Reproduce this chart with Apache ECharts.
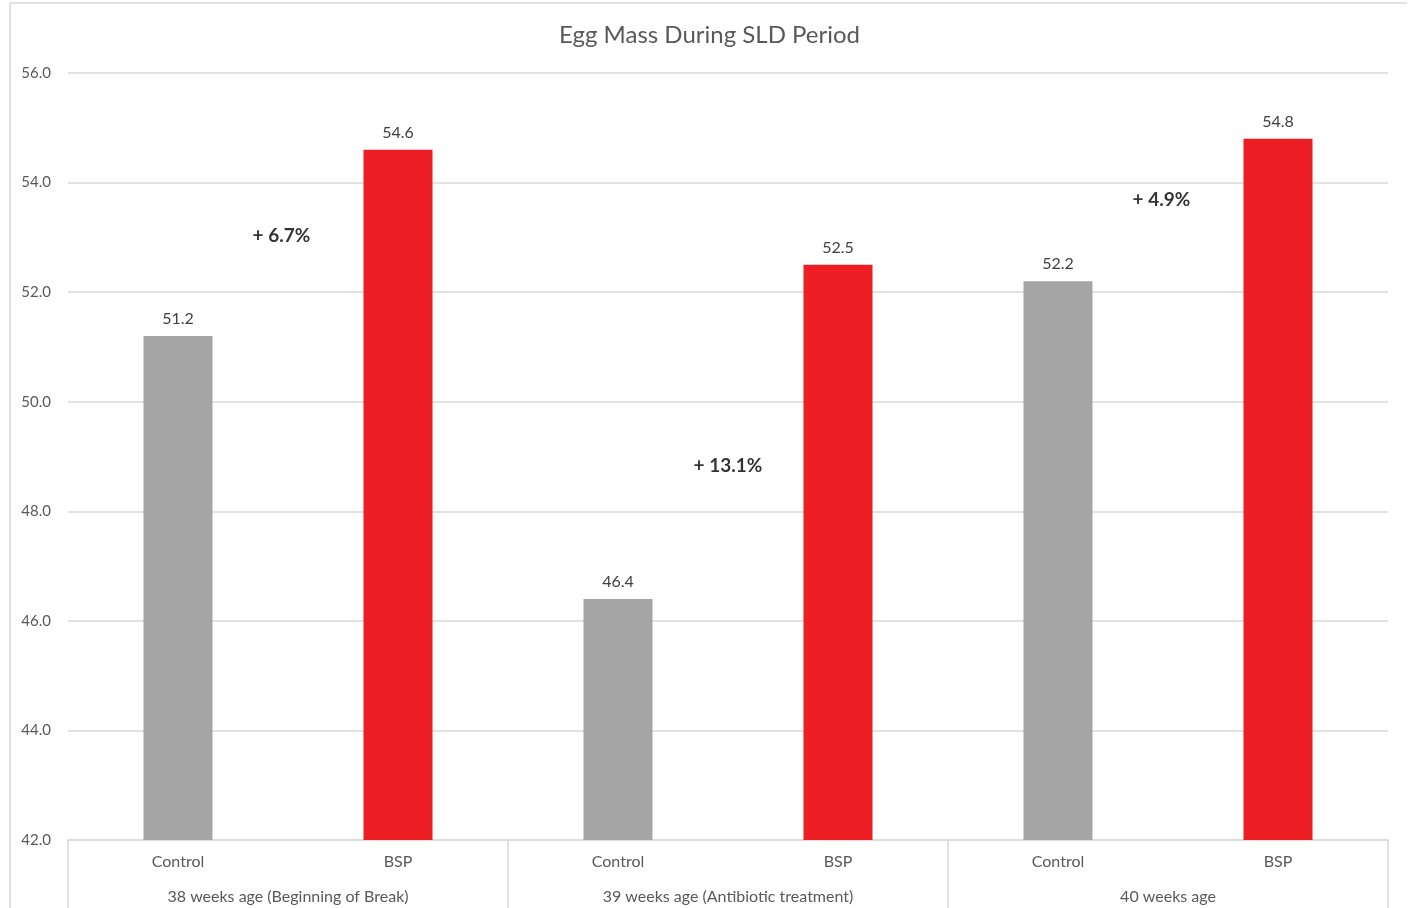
<!DOCTYPE html>
<html>
<head>
<meta charset="utf-8">
<script src="https://cdn.jsdelivr.net/npm/echarts@6/dist/echarts.min.js"></script>
<style>html,body{margin:0;padding:0;background:#fff;}#c{width:1419px;height:908px;}</style>
</head>
<body>
<div id="c"></div>
<script>
const categories = ['Control', 'BSP', 'Control', 'BSP', 'Control', 'BSP'];
const groups = ['38 weeks age (Beginning of Break)', '39 weeks age (Antibiotic treatment)', '40 weeks age'];
const values = [51.2, 54.6, 46.4, 52.5, 52.2, 54.8];
const annotationX = [0.47, 2.5, 4.47];
const annotationY = [53.02, 48.82, 53.69];
const annotationText = ['+ 6.7%', '+ 13.1%', '+ 4.9%'];

const FONT = 'Lato, "Open Sans", sans-serif';
const colors = ['#a5a5a5', '#ee1f24'];

const chart = echarts.init(document.getElementById('c'));
chart.setOption({
  animation: false,
  backgroundColor: '#fff',
  title: {
    text: 'Egg Mass During SLD Period',
    left: 'center',
    top: 18,
    textStyle: { fontFamily: FONT, fontSize: 24, fontWeight: 'normal', color: '#595959' }
  },
  grid: { left: 68, right: 31, top: 73, bottom: 68 },
  xAxis: [
    {
      type: 'category',
      data: categories,
      axisLine: { lineStyle: { color: '#d9d9d9', width: 1.5 } },
      axisTick: { show: false },
      axisLabel: { margin: 14, fontFamily: FONT, fontSize: 16, color: '#595959' }
    },
    {
      type: 'category',
      data: groups,
      position: 'bottom',
      axisLine: { show: false },
      axisTick: { show: true, length: 80, lineStyle: { color: '#d9d9d9', width: 1.5 } },
      axisLabel: { margin: 49, fontFamily: FONT, fontSize: 16, color: '#595959' }
    },
    {
      type: 'value',
      min: -0.5,
      max: 5.5,
      show: false
    }
  ],
  yAxis: {
    type: 'value',
    min: 42,
    max: 56,
    interval: 2,
    axisLine: { show: false },
    axisTick: { show: false },
    splitLine: { lineStyle: { color: '#d9d9d9', width: 1.5 } },
    axisLabel: { margin: 17, fontFamily: FONT, fontSize: 15, color: '#595959', formatter: v => v.toFixed(1) }
  },
  series: [
    {
      type: 'bar',
      xAxisIndex: 0,
      barWidth: 69,
      data: values.map((v, i) => ({ value: v, itemStyle: { color: colors[i % 2] } })),
      label: {
        show: true,
        position: 'top',
        distance: 9,
        fontFamily: FONT,
        fontSize: 16,
        color: '#404040',
        formatter: p => p.value.toFixed(1)
      }
    },
    {
      type: 'scatter',
      xAxisIndex: 2,
      symbolSize: 0,
      silent: true,
      data: annotationX.map((x, i) => ({ value: [x, annotationY[i]], name: annotationText[i] })),
      label: {
        show: true,
        position: 'inside',
        fontFamily: FONT,
        fontSize: 19,
        fontWeight: 'bold',
        color: '#000',
        formatter: p => p.name
      }
    }
  ],
  graphic: [
    { type: 'line', shape: { x1: 10, y1: 3, x2: 1407, y2: 3 }, style: { stroke: '#d9d9d9', lineWidth: 1.5 } },
    { type: 'line', shape: { x1: 10, y1: 3, x2: 10, y2: 908 }, style: { stroke: '#d9d9d9', lineWidth: 1.5 } }
  ]
});
</script>
</body>
</html>
